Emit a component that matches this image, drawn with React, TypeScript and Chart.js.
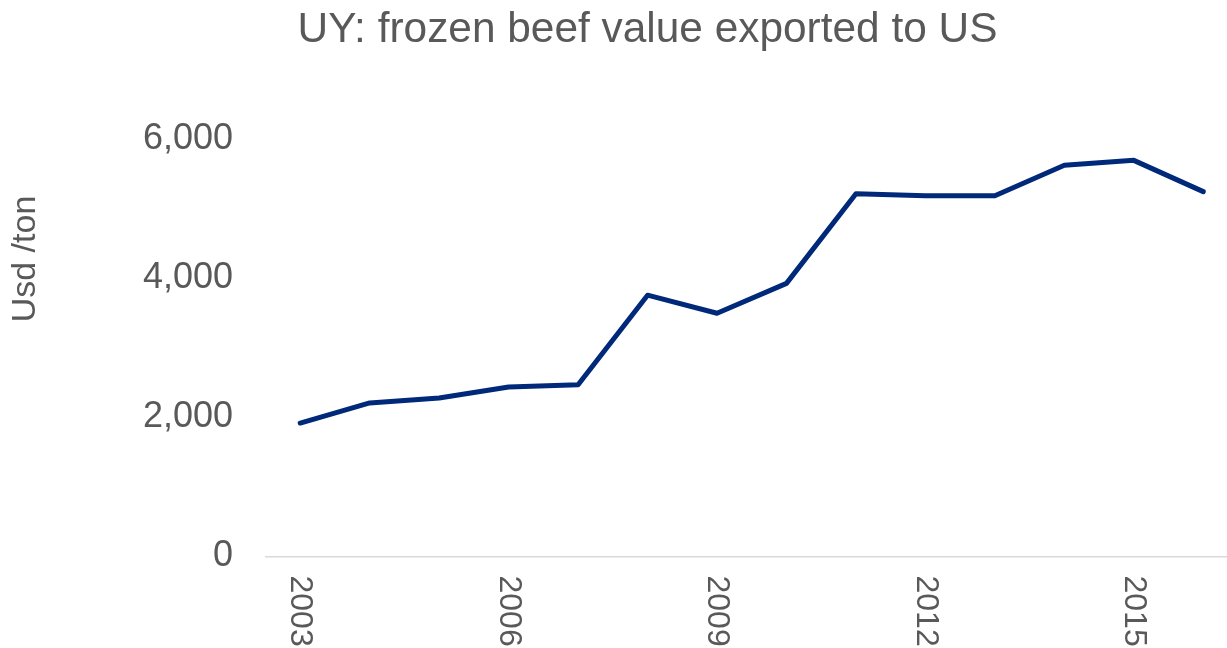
import React, { useEffect, useRef } from "react";
import { Chart, registerables } from "chart.js";

Chart.register(...registerables);

const years = ["2003","2004","2005","2006","2007","2008","2009","2010","2011","2012","2013","2014","2015","2016"];
const usdPerTon = [1920, 2210, 2280, 2440, 2470, 3760, 3500, 3930, 5220, 5190, 5190, 5630, 5700, 5250];
const yTicks = [0, 2000, 4000, 6000];
const xLabelYears = ["2003", "2006", "2009", "2012", "2015"];
const titleText = "UY: frozen beef value exported to US";
const yTitleText = "Usd /ton";

const GRAY = "#595959";
const FONT = "'Liberation Sans', Arial, sans-serif";

const textPlugin = {
  id: "customText",
  afterDraw(chart: any) {
    const ctx = chart.ctx;
    const xs = chart.scales.x;
    const area = chart.chartArea;
    ctx.save();
    ctx.fillStyle = GRAY;
    // title
    ctx.font = `42.4px ${FONT}`;
    ctx.textAlign = "center";
    ctx.textBaseline = "alphabetic";
    ctx.fillText(titleText, 647.5, 42);
    // y title
    ctx.save();
    ctx.translate(26, 259);
    ctx.rotate(-Math.PI / 2);
    ctx.font = `34px ${FONT}`;
    ctx.textAlign = "center";
    ctx.textBaseline = "middle";
    ctx.fillText(yTitleText, 0, 0);
    ctx.restore();
    // x labels rotated clockwise
    ctx.font = `32px ${FONT}`;
    years.forEach((yr, i) => {
      if (!xLabelYears.includes(yr)) return;
      const x = xs.getPixelForValue(i);
      ctx.save();
      ctx.translate(x, area.bottom + 19);
      ctx.rotate(Math.PI / 2);
      ctx.textAlign = "left";
      ctx.textBaseline = "middle";
      ctx.fillText(yr, 0, 0);
      ctx.restore();
    });
    ctx.restore();
  },
};

export default function App() {
  const ref = useRef<HTMLCanvasElement>(null);
  useEffect(() => {
    document.body.style.margin = "0";
    document.body.style.overflow = "hidden";
    const chart = new Chart(ref.current!, {
      type: "line",
      data: {
        labels: years,
        datasets: [
          {
            data: usdPerTon,
            borderColor: "#00297a",
            borderWidth: 5,
            pointRadius: 0,
            borderCapStyle: "round",
            borderJoinStyle: "round",
            tension: 0,
            fill: false,
          },
        ],
      },
      options: {
        animation: false,
        responsive: false,
        layout: { padding: { top: 139.5, right: 2, left: 0, bottom: 0 } },
        plugins: {
          legend: { display: false },
          title: { display: false },
          tooltip: { enabled: false },
        },
        scales: {
          x: {
            type: "category",
            offset: true,
            grid: { display: false, drawTicks: false },
            border: { display: true, color: "#d9d9d9", width: 1.5 },
            ticks: { display: false },
            afterFit(scale: any) {
              scale.height = 91.5;
            },
          },
          y: {
            min: 0,
            max: 6000,
            grid: { display: false, drawTicks: false },
            border: { display: false },
            afterBuildTicks(scale: any) {
              scale.ticks = yTicks.map((v) => ({ value: v }));
            },
            ticks: {
              color: GRAY,
              font: { family: FONT, size: 36 },
              padding: 32.5,
              callback: (v: any) => Number(v).toLocaleString("en-US"),
            },
            afterFit(scale: any) {
              scale.width = 265.5;
            },
          },
        },
      },
      plugins: [textPlugin],
    });
    return () => chart.destroy();
  }, []);
  return (
    <div style={{ width: 1227, height: 648, overflow: "hidden", background: "#fff" }}>
      <canvas ref={ref} width={1240} height={648} style={{ width: 1240, height: 648, display: "block" }} />
    </div>
  );
}
